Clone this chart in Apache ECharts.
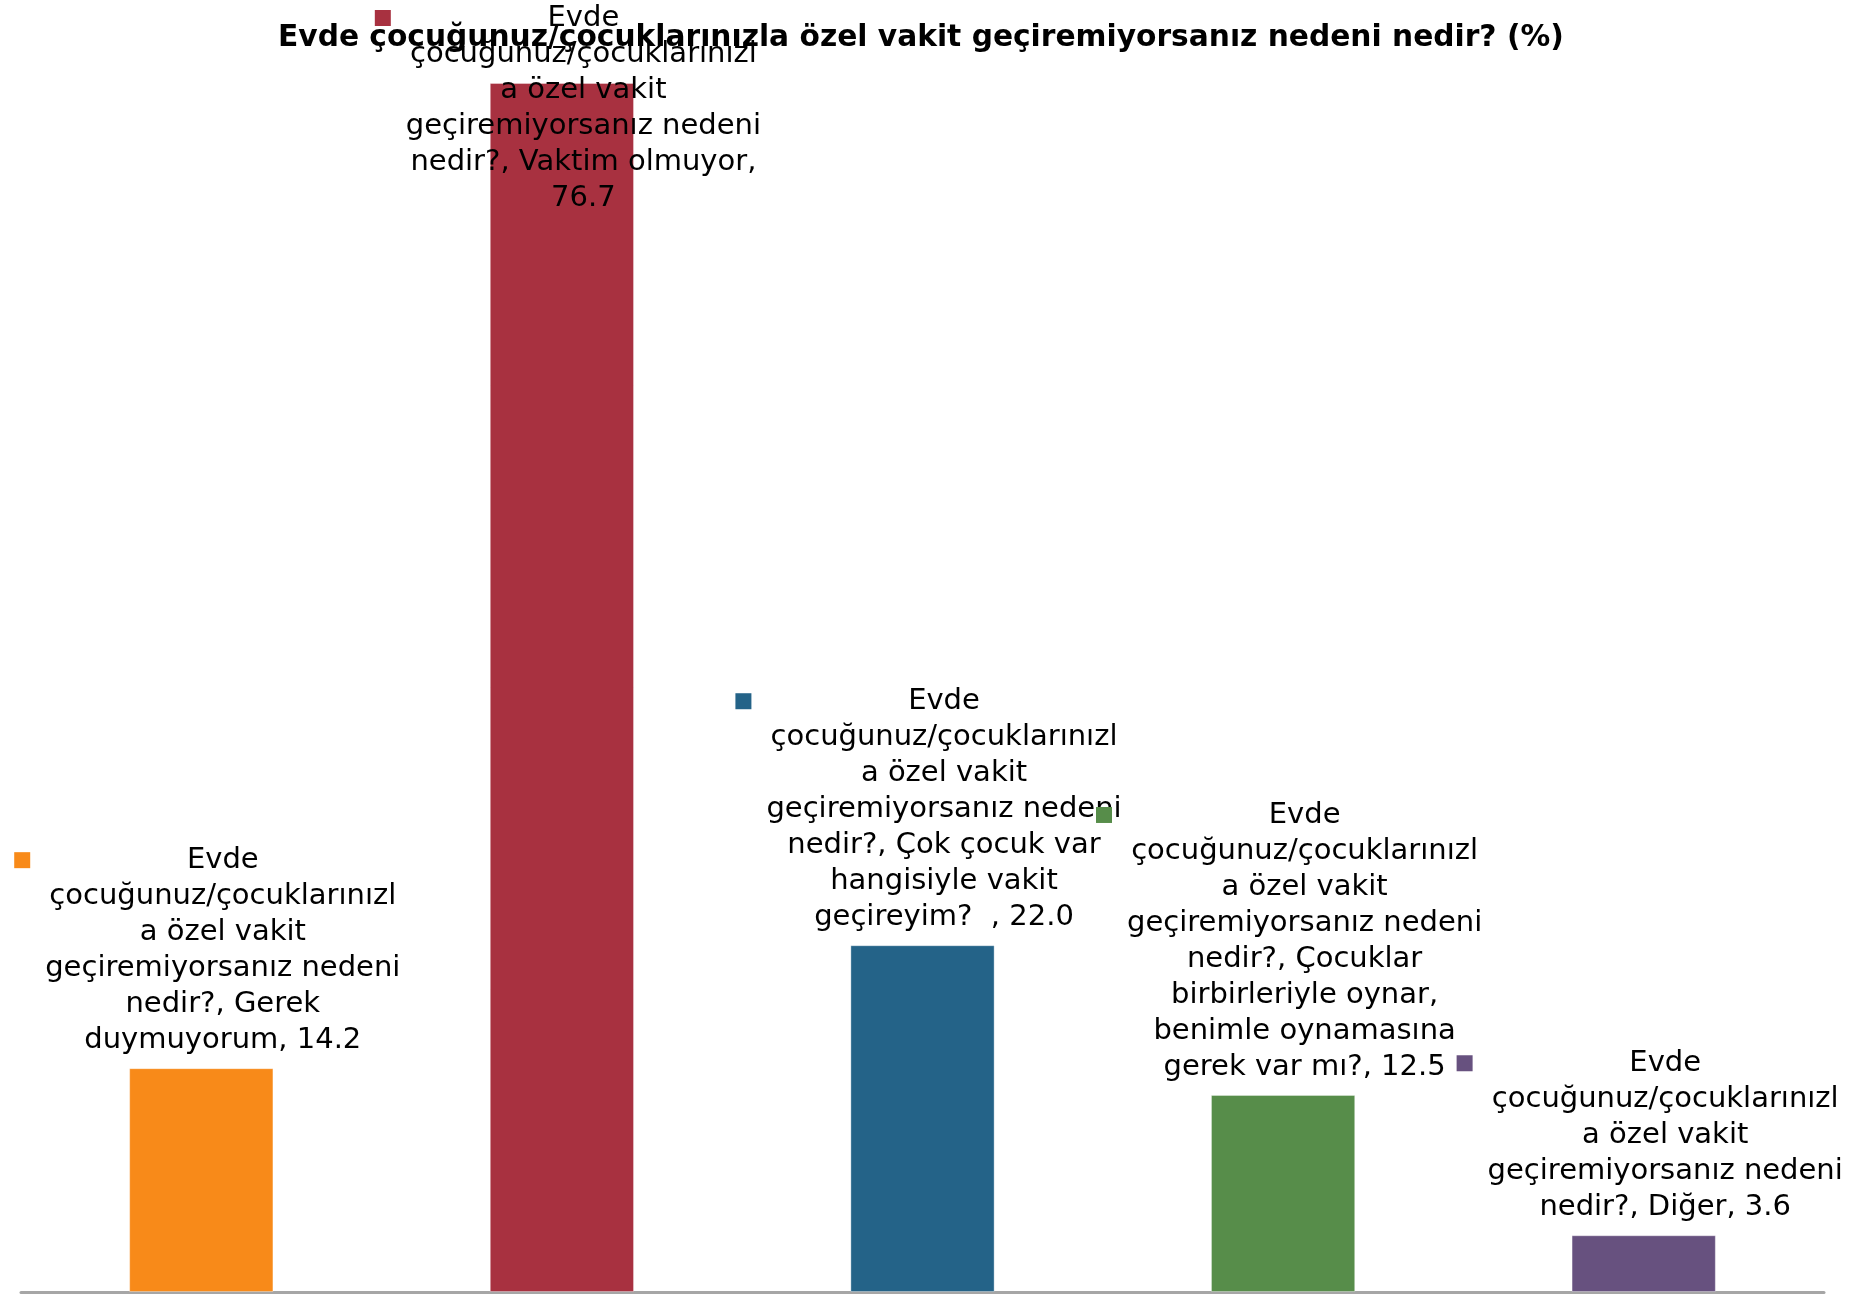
<!DOCTYPE html>
<html>
<head>
<meta charset="utf-8">
<script src="https://cdn.jsdelivr.net/npm/echarts@6/dist/echarts.min.js"></script>
<style>
  html, body { margin: 0; padding: 0; background: #fff; }
  #chart { width: 1866px; height: 1294px; }
</style>
</head>
<body>
<div id="chart"></div>
<script>
const title = 'Evde çocuğunuz/çocuklarınızla özel vakit geçiremiyorsanız nedeni nedir? (%)';
const question = 'Evde çocuğunuz/çocuklarınızla özel vakit geçiremiyorsanız nedeni nedir?';
const categories = [
  'Gerek duymuyorum',
  'Vaktim olmuyor',
  'Çok çocuk var hangisiyle vakit geçireyim?  ',
  'Çocuklar birbirleriyle oynar, benimle oynamasına gerek var mı?',
  'Diğer'
];
const values = [14.2, 76.7, 22.0, 12.5, 3.6];
const colors = ['#F88A19', '#A83140', '#246388', '#578D4A', '#67517F'];

const FONT = '"DejaVu Sans", Verdana, sans-serif';
const LABEL_SIZE = 29;
const TITLE_SIZE = 29.7;
const WRAP_WIDTH = 361;

const ctx = document.createElement('canvas').getContext('2d');
function textWidth(s, font) {
  ctx.font = font;
  return ctx.measureText(s).width;
}
const fits = s => textWidth(s, LABEL_SIZE + 'px ' + FONT) <= WRAP_WIDTH;

// Excel style greedy wrap, long words get cut by character
function wrap(text) {
  const lines = [];
  let cur = '';
  text.split(' ').forEach((word, i) => {
    const next = i === 0 ? word : cur + ' ' + word;
    if (fits(next)) { cur = next; return; }
    if (cur !== '') lines.push(cur);
    cur = word;
    while (!fits(cur)) {
      let k = cur.length - 1;
      while (k > 1 && !fits(cur.slice(0, k))) k--;
      lines.push(cur.slice(0, k));
      cur = cur.slice(k);
    }
  });
  lines.push(cur);
  return lines;
}

// title is centred over the plot area, not the page
const titleLeft = Math.round(921 - textWidth(title, 'bold ' + TITLE_SIZE + 'px ' + FONT) / 2);

const rich = {
  t: { fontFamily: FONT, fontSize: LABEL_SIZE, lineHeight: 36, color: '#000', align: 'center' },
  sp: { width: 31, align: 'left', lineHeight: 36 },
  gap: { width: 15, align: 'left', lineHeight: 36 }
};
colors.forEach((c, i) => {
  rich['k' + i] = { width: 16, height: 16, backgroundColor: c, align: 'left' };
});

const chart = echarts.init(document.getElementById('chart'));
chart.setOption({
  backgroundColor: '#fff',
  animation: false,
  title: {
    text: title,
    left: titleLeft,
    top: 23,
    padding: 0,
    textStyle: { fontFamily: FONT, fontSize: TITLE_SIZE, fontWeight: 'bold', color: '#000' }
  },
  grid: { left: 21, right: 42, top: 31, bottom: 2, containLabel: false },
  xAxis: {
    type: 'category',
    data: categories,
    axisLine: { lineStyle: { color: '#A6A6A6', width: 3 } },
    axisTick: { show: false },
    axisLabel: { show: false }
  },
  yAxis: { type: 'value', min: 0, max: 80, show: false, splitLine: { show: false } },
  series: [{
    type: 'bar',
    barWidth: '40%',
    data: values.map((v, i) => ({ value: v, itemStyle: { color: colors[i] } })),
    itemStyle: { borderColor: 'rgba(255,255,255,0.35)', borderWidth: 1 },
    label: {
      show: true,
      position: 'top',
      distance: 10,
      lineHeight: 36,
      fontFamily: FONT,
      fontSize: LABEL_SIZE,
      formatter: p => {
        const lines = wrap(question + ', ' + categories[p.dataIndex] + ', ' + p.value.toFixed(1));
        return lines.map((l, j) => j === 0
          ? '{k' + p.dataIndex + '|}{gap|}{t|' + l + '}'
          : '{sp|}{t|' + l + '}').join('\n');
      },
      rich: rich
    },
    // nudge right a little and keep labels inside the chart, like Excel does for the tall bar
    labelLayout: p => ({ dx: 6, dy: p.labelRect.y < 0 ? -p.labelRect.y : 0 })
  }]
});
</script>
</body>
</html>
